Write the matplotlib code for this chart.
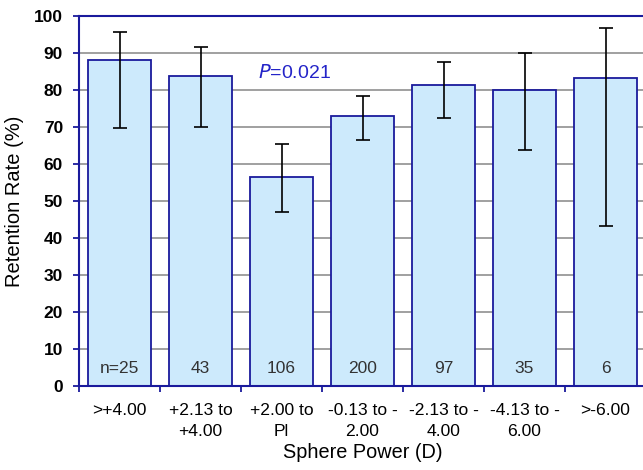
import matplotlib
matplotlib.use("Agg")
import matplotlib.pyplot as plt
import numpy as np

# data
categories = [">+4.00", "+2.13 to\n+4.00", "+2.00 to\nPl", "-0.13 to -\n2.00",
              "-2.13 to -\n4.00", "-4.13 to -\n6.00", ">-6.00"]
retention = [88.1, 83.7, 56.6, 73.1, 81.4, 80.0, 83.2]
err_upper = [95.7, 91.6, 65.4, 78.5, 87.7, 89.9, 96.8]
err_lower = [69.8, 70.0, 47.1, 66.5, 72.3, 63.9, 43.3]
n_labels = ["n=25", "43", "106", "200", "97", "35", "6"]

navy = "#1a1a9c"
fill = "#cdeafc"

plt.rcParams['font.family'] = ['Liberation Sans', 'DejaVu Sans']

fig = plt.figure(figsize=(6.43, 4.70), dpi=100)
ax = fig.add_axes([79 / 643, 84 / 470, 567 / 643, 370 / 470])

x = np.arange(len(categories))
vals = np.array(retention)
yerr = [vals - np.array(err_lower), np.array(err_upper) - vals]

ax.bar(x, vals, width=0.78, color=fill, edgecolor=navy, linewidth=1.3, zorder=2)
ax.errorbar(x, vals, yerr=yerr, fmt="none", ecolor="black", elinewidth=1.2,
            capsize=5, capthick=1.2, zorder=3)

for xi, lab in zip(x, n_labels):
    ax.text(xi, 4.6, lab, ha="center", va="center", fontsize=12.5, color="#333333", zorder=4)

ax.text(1.71, 84.6, r"$\it{P}$=0.021", ha="left", va="center", fontsize=14,
        color="#2424c8", zorder=4)

ax.set_xlim(-0.5, len(categories) - 0.5)
ax.set_ylim(0, 100)
ax.set_yticks(range(0, 101, 10))
ax.set_yticklabels([str(v) for v in range(0, 101, 10)], fontsize=12.5, fontweight="bold")
ax.yaxis.grid(True, color="#a0a0a0", linewidth=1.4, zorder=0)
ax.set_axisbelow(True)

# category labels in the middle, ticks at the boundaries
ax.set_xticks(x)
ax.set_xticklabels(categories, fontsize=12.6, linespacing=1.5)
ax.tick_params(axis="x", which="major", length=0, pad=12)
ax.set_xticks(np.arange(-0.5, len(categories), 1), minor=True)
ax.tick_params(axis="x", which="minor", length=4.5, width=1.3, color=navy, direction="out")
ax.tick_params(axis="y", length=4.5, width=1.3, color=navy, direction="out", pad=7)

for side in ["left", "bottom", "top", "right"]:
    ax.spines[side].set_color(navy)
    ax.spines[side].set_linewidth(1.5)

ax.set_ylabel("Retention Rate (%)", fontsize=14.5, labelpad=7)
ax.set_xlabel("Sphere Power (D)", fontsize=14.3, labelpad=3)

fig.savefig("out.png", dpi=100)
